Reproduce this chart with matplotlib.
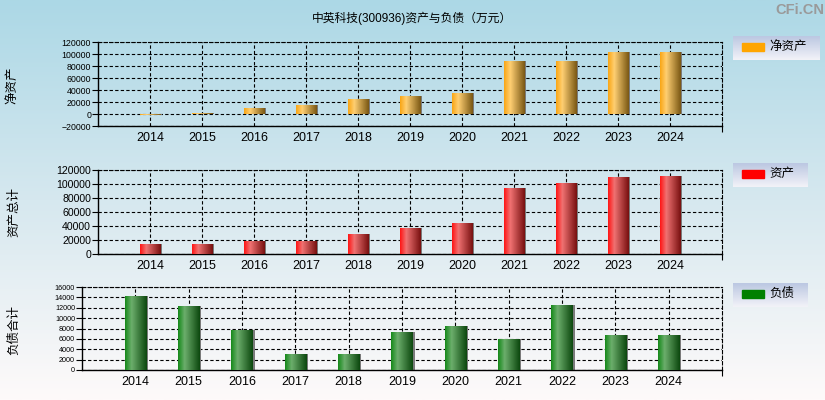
import numpy as np
import matplotlib
matplotlib.use("Agg")
import matplotlib.pyplot as plt
from matplotlib.colors import LinearSegmentedColormap

plt.rcParams['font.family'] = ['Liberation Sans', 'Noto Sans CJK SC', 'DejaVu Sans']

# data (万元)
years = ['2014', '2015', '2016', '2017', '2018', '2019', '2020', '2021', '2022', '2023', '2024']
net_assets = [-2200, 2200, 10500, 15500, 25500, 30500, 35500, 88900, 88900, 103900, 103900]
total_assets = [14300, 14300, 19000, 19000, 28600, 37100, 44300, 94300, 101400, 110000, 111400]
total_liab = [14320, 12390, 7740, 3100, 3100, 7350, 8520, 5940, 12580, 6770, 6770]

title = '中英科技(300936)资产与负债（万元）'
ylabels = ['净资产', '资产总计', '负债合计']
legend_names = ['净资产', '资产', '负债']
legend_colors = ['#ffa500', '#ff0000', '#008000']

grads = [
    ['#f9a615', '#ffcf72', '#7a5814'],
    ['#ff1515', '#f07272', '#781010'],
    ['#16891a', '#6cae6c', '#0c480e'],
]

W, H = 825, 400
fig = plt.figure(figsize=(W / 100, H / 100), dpi=100)

# background gradient
bg = fig.add_axes([0, 0, 1, 1], zorder=-10)
bg_cmap = LinearSegmentedColormap.from_list('bg', [(0, '#fefafa'), (0.5, '#d6e8ef'), (1, '#acd8e6')])
bg.imshow(np.linspace(0, 1, 256).reshape(-1, 1)[::-1], aspect='auto', cmap=bg_cmap,
          extent=[0, 1, 0, 1])
bg.set_axis_off()


def fx(x):
    return x / W


def fy(y):
    return 1 - y / H


panels = [
    dict(box=(98, 42, 722, 126), data=net_assets, ylim=(-20000, 120000), step=20000, yfs=6.3,
         ylab_xy=(12, 85), leg=(733, 36, 820, 60)),
    dict(box=(98, 170, 722, 254), data=total_assets, ylim=(0, 120000), step=20000, yfs=7.6,
         ylab_xy=(14, 212), leg=(733, 163, 808, 187)),
    dict(box=(82, 287, 722, 370), data=total_liab, ylim=(0, 16000), step=2000, yfs=5.2,
         ylab_xy=(14, 330), leg=(733, 283, 808, 307)),
]

x = np.arange(len(years))
dash = (0, (3, 2))

for i, p in enumerate(panels):
    l, t, r, b = p['box']
    ax = fig.add_axes([fx(l), fy(b), fx(r - l), (b - t) / H])
    ax.patch.set_alpha(0)

    cmap = LinearSegmentedColormap.from_list('g%d' % i, [(0, grads[i][0]), (0.3, grads[i][1]), (1, grads[i][2])])
    # shadow
    ax.bar(x + 0.04, p['data'], width=0.4, color='#7a7a7a', zorder=2)
    bars = ax.bar(x, p['data'], width=0.4, color='none', zorder=3)
    for bar in bars:
        bb = bar.get_bbox()
        im = ax.imshow(np.linspace(0, 1, 64).reshape(1, -1), cmap=cmap, aspect='auto',
                       extent=[bb.x0, bb.x1, bb.y0, bb.y1], zorder=3)
        im.set_clip_path(bar)

    ax.set_xlim(-1, 11)
    ax.set_ylim(*p['ylim'])
    ax.set_xticks(x)
    ax.set_xticklabels(years, fontsize=9)
    ax.set_xticks([11], minor=True)
    ax.set_yticks(np.arange(p['ylim'][0], p['ylim'][1] + 1, p['step']))
    ax.tick_params(axis='y', labelsize=p['yfs'], length=4, width=0.8, pad=1)
    ax.tick_params(axis='x', which='major', length=0, pad=4)
    ax.tick_params(axis='x', which='minor', length=4, width=0.8)
    ax.grid(True, which='major', color='black', linestyle=dash, linewidth=0.8, zorder=1)
    ax.set_axisbelow(True)
    for s in ['left', 'bottom']:
        ax.spines[s].set_linewidth(1.0)
    for s in ['top', 'right']:
        ax.spines[s].set_linestyle(dash)
        ax.spines[s].set_linewidth(0.8)

    fig.text(fx(p['ylab_xy'][0]), fy(p['ylab_xy'][1]), ylabels[i], rotation=90,
             ha='center', va='center', fontsize=9)

    # legend box
    ll, lt, lr, lb = p['leg']
    lax = fig.add_axes([fx(ll), fy(lb), fx(lr - ll), (lb - lt) / H])
    leg_cmap = LinearSegmentedColormap.from_list('lg', ['#f2f2f8', '#bcc8e2'])
    lax.imshow(np.linspace(0, 1, 32).reshape(-1, 1)[::-1], cmap=leg_cmap, aspect='auto',
               extent=[0, 1, 0, 1])
    lax.set_xlim(0, 1)
    lax.set_ylim(0, 1)
    lax.set_axis_off()
    pw = (lr - ll)
    lax.add_patch(plt.Rectangle((9 / pw, 0.36), 22 / pw, 0.34, color=legend_colors[i]))
    lax.text(36 / pw, 0.53, legend_names[i], ha='left', va='center', fontsize=9)

fig.text(fx(412), fy(18), title, ha='center', va='center', fontsize=8.5)
fig.text(fx(800), fy(10), 'CFi.CN', ha='center', va='center', fontsize=10.5,
         color='#9a9a9a', fontweight='bold')

fig.savefig('out.png', dpi=100)
